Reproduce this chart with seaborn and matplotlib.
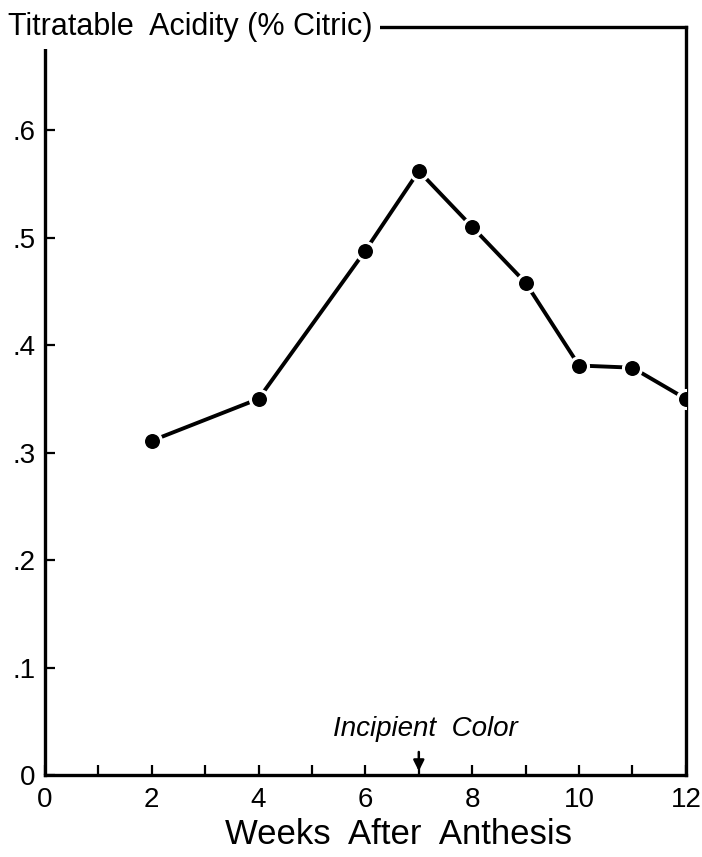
import matplotlib
matplotlib.use("Agg")
import matplotlib.pyplot as plt
import seaborn as sns
import pandas as pd

weeks = [2, 4, 6, 7, 8, 9, 10, 11, 12]
acidity = [0.311, 0.350, 0.488, 0.562, 0.510, 0.458, 0.381, 0.379, 0.350]
x_tick_labels = ["0", "2", "4", "6", "8", "10", "12"]
y_tick_labels = ["0", ".1", ".2", ".3", ".4", ".5", ".6"]
title_text = "Titratable  Acidity (% Citric)"
x_label = "Weeks  After  Anthesis"
annot_text = "Incipient  Color"
annot_week = 7

sns.set_style("ticks")
FONT = ["Liberation Sans", "DejaVu Sans"]
plt.rcParams["font.family"] = FONT
plt.rcParams["text.color"] = "black"
plt.rcParams["axes.labelcolor"] = "black"

df = pd.DataFrame({"week": weeks, "acidity": acidity})

fig = plt.figure(figsize=(7.02, 8.57), dpi=100)
ax = fig.add_axes([0.064, 0.0957, 0.913, 0.8728])

sns.lineplot(data=df, x="week", y="acidity", ax=ax, color="black", lw=2.8,
             marker="o", markersize=13, markerfacecolor="black",
             markeredgecolor="white", markeredgewidth=2.2, zorder=3)

ax.set_xlim(0, 12)
ax.set_ylim(0, 0.696)

ax.set_xticks(range(0, 13, 2))
ax.set_xticklabels(x_tick_labels, fontsize=20)
ax.set_xticks(range(1, 13, 2), minor=True)
ax.set_yticks([0, 0.1, 0.2, 0.3, 0.4, 0.5, 0.6])
ax.set_yticklabels(y_tick_labels, fontsize=20)

ax.tick_params(axis="both", which="both", direction="in", length=7, width=1.6,
               color="black", labelcolor="black")
ax.tick_params(axis="x", pad=9)
ax.tick_params(axis="y", pad=7)

for s in ax.spines.values():
    s.set_visible(True)
    s.set_linewidth(2.4)
    s.set_color("black")

ax.set_xlabel(x_label, fontsize=25, labelpad=3)
ax.xaxis.label.set_x(0.552)
ax.set_ylabel("")

ax.text(-0.057, 1.0, title_text, transform=ax.transAxes, fontsize=22,
        ha="left", va="center",
        bbox=dict(facecolor="white", edgecolor="none", pad=5), zorder=5,
        clip_on=False)

ax.annotate("", xy=(annot_week, 0.001), xytext=(annot_week, 0.024),
            arrowprops=dict(arrowstyle="-|>", color="black", lw=1.8,
                            mutation_scale=16))
ax.text(annot_week + 0.12, 0.036, annot_text, fontsize=20, style="italic",
        ha="center", va="baseline")

fig.savefig("out.png", dpi=100, facecolor="white")
